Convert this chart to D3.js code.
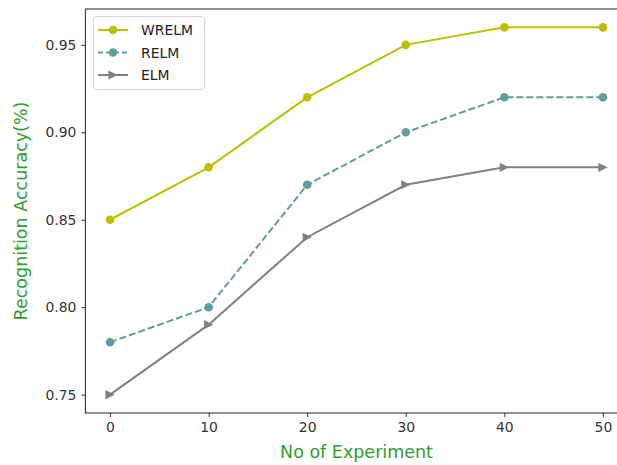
<!DOCTYPE html>
<html>
<head>
<meta charset="utf-8">
<script src="https://cdn.jsdelivr.net/npm/d3@7"></script>
<style>
  body { margin: 0; background: #fff; }
  svg { display: block; font-family: "DejaVu Sans", sans-serif; }
</style>
</head>
<body>
<svg id="chart" width="617" height="465"></svg>
<script>
// data
const experiments = [0, 10, 20, 30, 40, 50];
const wrelm = [0.85, 0.88, 0.92, 0.95, 0.96, 0.96];
const relm = [0.78, 0.80, 0.87, 0.90, 0.92, 0.92];
const elm = [0.75, 0.79, 0.84, 0.87, 0.88, 0.88];
const xTicks = [0, 10, 20, 30, 40, 50];
const yTicks = [0.75, 0.80, 0.85, 0.90, 0.95];

const series = [
    { name: "WRELM", values: wrelm, color: "#bfbf00", dash: null, marker: "circle" },
    { name: "RELM", values: relm, color: "#5f9ea0", dash: "7,3", marker: "circle" },
    { name: "ELM", values: elm, color: "#808080", dash: null, marker: "tri" }
];

const svg = d3.select("#chart");
// the right edge of the axes runs past the picture, as in the reference
const plotLeft = 85.4, plotRight = 627.6, plotTop = 9, plotBottom = 413;

const x = d3.scaleLinear().domain([-2.5, 52.5]).range([plotLeft, plotRight]);
const y = d3.scaleLinear().domain([0.7395, 0.9705]).range([plotBottom, plotTop]);

const axisColor = "#333";
const labelColor = "#2ca02c";

// lines and markers
const line = d3.line().x((d, i) => x(experiments[i])).y(d => y(d));

function drawMarker(g, type, cx, cy, color) {
    if (type === "circle") {
        g.append("circle").attr("cx", cx).attr("cy", cy).attr("r", 4.3).attr("fill", color);
    } else {
        const s = 4.6;
        g.append("path")
            .attr("d", `M${cx + s},${cy} L${cx - s},${cy - s} L${cx - s},${cy + s} Z`)
            .attr("fill", color);
    }
}

series.slice().reverse().forEach(s => {
    const g = svg.append("g");
    g.append("path")
        .datum(s.values)
        .attr("d", line)
        .attr("fill", "none")
        .attr("stroke", s.color)
        .attr("stroke-width", 2)
        .attr("stroke-dasharray", s.dash);
    s.values.forEach((v, i) => drawMarker(g, s.marker, x(experiments[i]), y(v), s.color));
});

// axes
const xAxis = svg.append("g")
    .attr("transform", `translate(0,${plotBottom})`)
    .call(d3.axisBottom(x).tickValues(xTicks).tickSize(4).tickPadding(5).tickFormat(d3.format("d")));
const yAxis = svg.append("g")
    .attr("transform", `translate(${plotLeft},0)`)
    .call(d3.axisLeft(y).tickValues(yTicks).tickSize(4).tickPadding(5).tickFormat(d3.format(".2f")));

[xAxis, yAxis].forEach(a => {
    a.select(".domain").remove();
    a.selectAll("line").attr("stroke", axisColor).attr("stroke-width", 1);
    a.selectAll("text").attr("fill", axisColor).style("font-size", "13.9px")
        .style("font-family", "DejaVu Sans");
});

// spines
svg.append("rect")
    .attr("x", plotLeft).attr("y", plotTop)
    .attr("width", plotRight - plotLeft).attr("height", plotBottom - plotTop)
    .attr("fill", "none").attr("stroke", axisColor).attr("stroke-width", 1.1);

// axis labels
svg.append("text")
    .attr("x", (plotLeft + plotRight) / 2).attr("y", 458)
    .attr("text-anchor", "middle")
    .attr("fill", labelColor)
    .style("font-size", "17.5px")
    .text("No of Experiment");

svg.append("text")
    .attr("transform", `translate(27,${(plotTop + plotBottom) / 2}) rotate(-90)`)
    .attr("text-anchor", "middle")
    .attr("fill", labelColor)
    .style("font-size", "17.5px")
    .text("Recognition Accuracy(%)");

// legend
const legend = svg.append("g");
legend.append("rect")
    .attr("x", 93.5).attr("y", 16.5).attr("width", 111).attr("height", 73)
    .attr("rx", 3)
    .attr("fill", "#fff").attr("fill-opacity", 0.8)
    .attr("stroke", "#d5d5d5");

series.forEach((s, i) => {
    const ly = 30 + i * 22.5;
    legend.append("line")
        .attr("x1", 98).attr("x2", 128).attr("y1", ly).attr("y2", ly)
        .attr("stroke", s.color).attr("stroke-width", 2)
        .attr("stroke-dasharray", s.dash ? "5,3" : null);
    drawMarker(legend, s.marker, 113, ly, s.color);
    legend.append("text")
        .attr("x", 141).attr("y", ly).attr("dy", "0.36em")
        .attr("fill", "#222")
        .style("font-size", "13.9px")
        .text(s.name);
});
</script>
</body>
</html>
